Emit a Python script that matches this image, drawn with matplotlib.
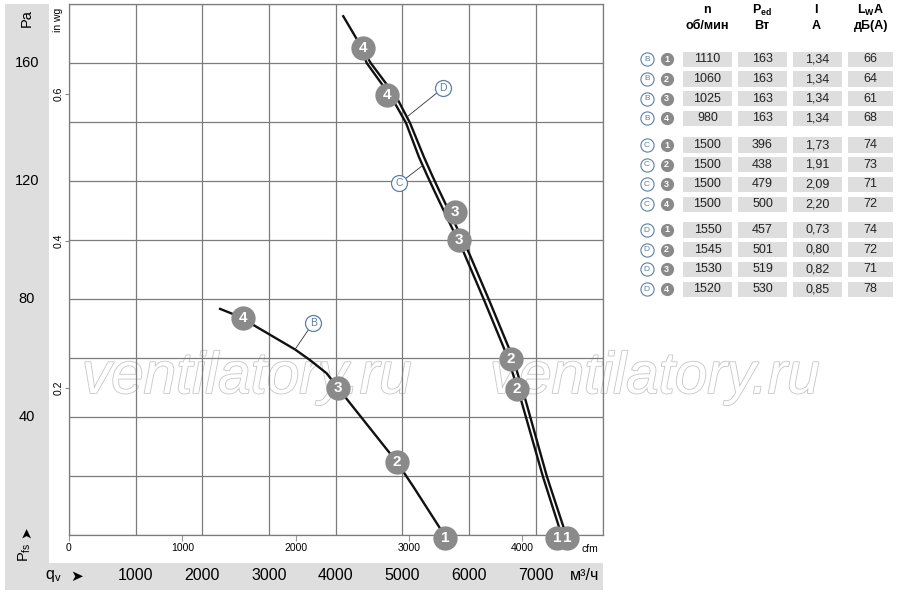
import matplotlib
matplotlib.use("Agg")
import matplotlib.pyplot as plt
from matplotlib import font_manager
from matplotlib.lines import Line2D
from matplotlib.patches import Rectangle
from matplotlib.transforms import blended_transform_factory
import matplotlib.patheffects as pe

names = {f.name for f in font_manager.fontManager.ttflist}
NARROW = 'Liberation Sans Narrow' if 'Liberation Sans Narrow' in names else 'Liberation Sans'
plt.rcParams['font.family'] = [NARROW, 'DejaVu Sans']
plt.rcParams['mathtext.fontset'] = 'custom'
plt.rcParams['mathtext.rm'] = NARROW
plt.rcParams['mathtext.default'] = 'regular'

# ---------------- data ----------------
# curve B (m3/h, Pa)
b_q = [2249, 2614, 2764, 3389, 3614, 3864, 4038, 4914, 5163, 5563, 5623]
b_p = [76.8, 73.5, 71.2, 62.9, 59.3, 54.8, 49.7, 24.8, 16.4, 2.3, 0]
# curve C
c_q = [4423, 4464, 4843, 5053, 5248, 5368, 5473, 5593, 5923, 6223, 6583, 6778, 7108, 7348, 7385]
c_p = [162.4, 160.0, 148.1, 139.7, 128.1, 122.0, 116.9, 111.2, 95.6, 79.7, 60.0, 45.8, 19.7, 2.7, 0]
# curve D
d_q = [4104, 4393, 4524, 4918, 5113, 5323, 5443, 5548, 5668, 5998, 6298, 6658, 6845, 7168, 7415, 7452]
d_p = [176.2, 165.1, 160.0, 148.1, 139.7, 128.1, 122.0, 116.9, 111.2, 95.6, 79.7, 60.0, 45.8, 19.7, 2.7, 0]

# operating points 1..4
b_pt_q = [5638, 4914, 4038, 2614]
b_pt_p = [-1.1, 24.8, 49.7, 73.5]
c_pt_q = [7317, 6717, 5848, 4768]
c_pt_p = [-1.0, 49.5, 100.0, 149.2]
d_pt_q = [7467, 6628, 5788, 4404]
d_pt_p = [-1.0, 59.7, 109.5, 165.2]

# curve labels: (label pos) -> (curve anchor)
lab_names = ['B', 'D', 'C']
lab_q = [3663, 5613, 4953]
lab_p = [72.0, 151.6, 119.2]
anc_q = [3389, 5083, 5300]
anc_p = [62.9, 142.0, 125.2]

pa_ticks = [40, 80, 120, 160]
inwg_ticks = [0.2, 0.4, 0.6]
cfm_ticks = [0, 1000, 2000, 3000, 4000]
m3h_labels = [1000, 2000, 3000, 4000, 5000, 6000, 7000]

# table
tbl_groups = ['B', 'C', 'D']
rpm = [1110, 1060, 1025, 980, 1500, 1500, 1500, 1500, 1550, 1545, 1530, 1520]
power = [163, 163, 163, 163, 396, 438, 479, 500, 457, 501, 519, 530]
current = ['1,34', '1,34', '1,34', '1,34', '1,73', '1,91', '2,09', '2,20', '0,73', '0,80', '0,82', '0,85']
noise = [66, 64, 61, 68, 74, 73, 71, 72, 74, 72, 71, 78]

# ---------------- figure ----------------
W, H = 900, 594
fig = plt.figure(figsize=(W / 100, H / 100), dpi=100)
fig.patch.set_facecolor('white')

def fx(x):
    return x / W

def fy(y):
    return 1 - y / H

GRAY_BG = '#dedede'
fig.add_artist(Rectangle((fx(5), fy(590)), fx(44), (590 - 4) / H, transform=fig.transFigure,
                         facecolor=GRAY_BG, edgecolor='none', zorder=0))
fig.add_artist(Rectangle((fx(5), fy(590)), fx(598), (590 - 563) / H, transform=fig.transFigure,
                         facecolor=GRAY_BG, edgecolor='none', zorder=0))

ax = fig.add_axes([fx(69), fy(535), 533.5 / W, 531 / H])
ax.set_xlim(0, 8000)
ax.set_ylim(0, 180)
ax.set_xticks(range(0, 8001, 1000))
ax.set_yticks(range(0, 181, 20))
ax.tick_params(length=0, labelbottom=False, labelleft=False)
GRID = '#7c7c7c'
ax.grid(True, color=GRID, lw=0.9)
for s in ax.spines.values():
    s.set_color(GRID)
    s.set_linewidth(0.9)

# secondary axes
INWG = 249.09
CFM = 1.699
sy = ax.secondary_yaxis('left', functions=(lambda p: p / INWG, lambda w: w * INWG))
sy.set_yticks(inwg_ticks)
sy.set_yticklabels([f'{t:.1f}' for t in inwg_ticks], rotation=90, va='center', fontsize=7.5)
sy.tick_params(length=3, width=0.8, color='#888888', pad=1)
sy.spines['left'].set_visible(False)

sx = ax.secondary_xaxis('bottom', functions=(lambda q: q / CFM, lambda c: c * CFM))
sx.set_xticks(cfm_ticks)
sx.set_xticklabels([str(t) for t in cfm_ticks], fontsize=7.5)
sx.tick_params(length=4, width=0.8, color='#999999', pad=2)
sx.spines['bottom'].set_visible(False)

fig.text(fx(590), fy(549), 'cfm', fontsize=7.5, ha='center', va='center')
fig.text(fx(58), fy(20), 'in wg', fontsize=7.5, ha='center', va='center', rotation=90)

# Pa labels
tr_y = blended_transform_factory(fig.transFigure, ax.transData)
for t in pa_ticks:
    ax.text(fx(27), t, str(t), transform=tr_y, fontsize=10.5, ha='center', va='center', clip_on=False)
fig.text(fx(27), fy(18), 'Pa', fontsize=10.5, ha='center', va='center', rotation=90)
fig.text(fx(26.5), fy(532), '\u27a4', fontsize=10, ha='center', va='center', rotation=90,
         family='DejaVu Sans')
fig.text(fx(25), fy(552), r'P$_{fs}$', fontsize=10.5, ha='center', va='center', rotation=90)

# m3/h labels
tr_x = blended_transform_factory(ax.transData, fig.transFigure)
for t in m3h_labels:
    ax.text(t, fy(576), str(t), transform=tr_x, fontsize=11.5, ha='center', va='center', clip_on=False)
fig.text(fx(585), fy(576), 'м³/ч', fontsize=11.5, ha='center', va='center')
fig.text(fx(53), fy(576), r'q$_v$', fontsize=11.5, ha='center', va='center')
fig.text(fx(77), fy(576), '\u27a4', fontsize=11, ha='center', va='center', family='DejaVu Sans')

# watermark
for x0 in (82, 490):
    ax.text(fx(x0), fy(393), 'ventilatory.ru', transform=fig.transFigure, fontsize=42,
            family='Liberation Sans', style='italic', color='white', ha='left', va='baseline',
            clip_on=False, zorder=1.5,
            path_effects=[pe.Stroke(linewidth=1.2, foreground='#c6c6c6'), pe.Normal()])

# curves
for q, p in ((b_q, b_p), (c_q, c_p), (d_q, d_p)):
    ax.plot(q, p, color='#111111', lw=1.7, zorder=3, solid_capstyle='butt', solid_joinstyle='round')

PT = '#8a8a8a'
for qs, ps in ((b_pt_q, b_pt_p), (c_pt_q, c_pt_p), (d_pt_q, d_pt_p)):
    for i, (q, p) in enumerate(zip(qs, ps)):
        ax.plot([q], [p], 'o', ms=17.5, color=PT, mec='none', zorder=4, clip_on=False)
        ax.text(q, p, str(i + 1), color='white', fontsize=11, fontweight='bold',
                ha='center', va='center', zorder=5, clip_on=False)

BLUE = '#5a80a6'
for n, lq, lp, aq, ap in zip(lab_names, lab_q, lab_p, anc_q, anc_p):
    ax.plot([lq, aq], [lp, ap], color='#333333', lw=0.6, zorder=3)
    ax.plot([lq], [lp], 'o', ms=11.5, mfc='white', mec=BLUE, mew=0.9, zorder=4)
    ax.text(lq, lp, n, color=BLUE, fontsize=7.5, ha='center', va='center', zorder=5)

# ---------------- table ----------------
hdr_x = [707, 762, 816, 871]
fig.text(fx(hdr_x[0]), fy(10), 'n', fontsize=9, fontweight='bold', ha='center', va='center')
fig.text(fx(hdr_x[0]), fy(26), 'об/мин', fontsize=9, fontweight='bold', ha='center', va='center')
fig.text(fx(hdr_x[1]), fy(10), r'P$_{ed}$', fontsize=9, fontweight='bold', ha='center', va='center')
fig.text(fx(hdr_x[1]), fy(26), 'Вт', fontsize=9, fontweight='bold', ha='center', va='center')
fig.text(fx(hdr_x[2]), fy(10), 'I', fontsize=9, fontweight='bold', ha='center', va='center')
fig.text(fx(hdr_x[2]), fy(26), 'A', fontsize=9, fontweight='bold', ha='center', va='center')
fig.text(fx(hdr_x[3]), fy(10), r'L$_W$A', fontsize=9, fontweight='bold', ha='center', va='center')
fig.text(fx(hdr_x[3]), fy(26), 'дБ(A)', fontsize=9, fontweight='bold', ha='center', va='center')

box_l = [683, 738, 793, 848]
box_w = [49, 49, 49, 45]
group_y0 = [59.3, 145, 230]
row_dy = 19.7
cols = [rpm, power, current, noise]
for g, gname in enumerate(tbl_groups):
    for r in range(4):
        idx = g * 4 + r
        y = group_y0[g] + r * row_dy
        fig.add_artist(Line2D([fx(646.7)], [fy(y)], marker='o', ms=9.5, mfc='white', mec=BLUE,
                              mew=0.8, transform=fig.transFigure))
        fig.text(fx(646.7), fy(y), gname, fontsize=6, color=BLUE, ha='center', va='center')
        fig.add_artist(Line2D([fx(666.7)], [fy(y)], marker='o', ms=9.5, mfc=PT, mec='none',
                              transform=fig.transFigure))
        fig.text(fx(666.7), fy(y), str(r + 1), fontsize=6.5, color='white', fontweight='bold',
                 ha='center', va='center')
        for c in range(4):
            fig.add_artist(Rectangle((fx(box_l[c]), fy(y + 7.5)), box_w[c] / W, 15 / H,
                                     transform=fig.transFigure, facecolor=GRAY_BG, edgecolor='none'))
            fig.text(fx(box_l[c] + box_w[c] / 2), fy(y), str(cols[c][idx]), fontsize=9,
                     color='#222222', ha='center', va='center')

fig.savefig('out.png', dpi=100, facecolor='white')
